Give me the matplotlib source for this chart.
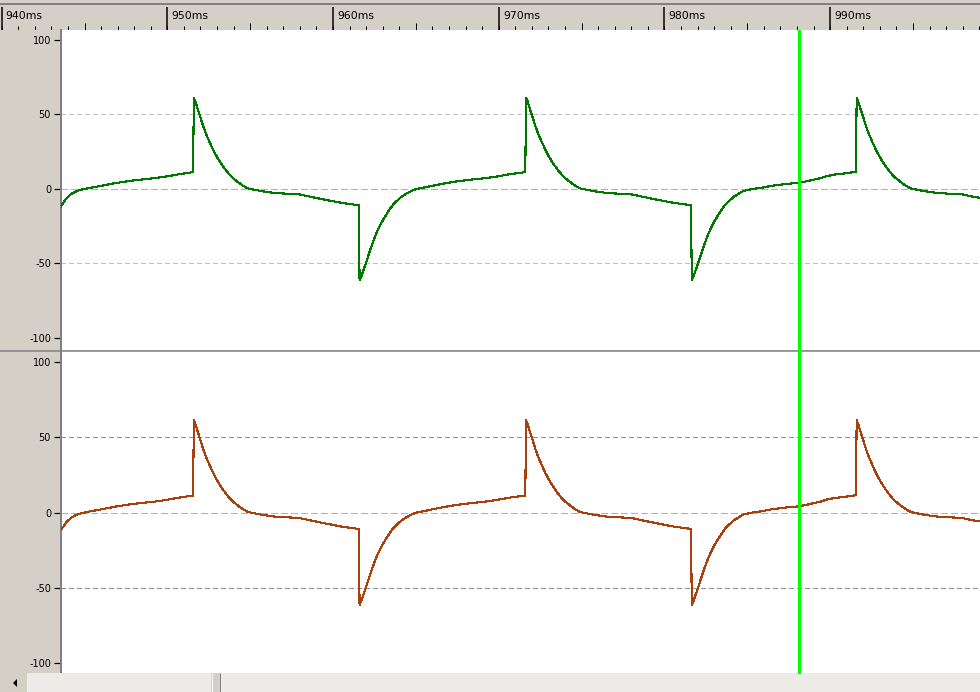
import numpy as np
import matplotlib
matplotlib.use('Agg')
import matplotlib.pyplot as plt
from matplotlib.patches import Rectangle, Polygon
from matplotlib.transforms import blended_transform_factory

# Tamaño de la ventana en píxeles (dpi=100)
W, H = 980, 692
PX_POR_MS = 16.57
T_ORIGEN = 939.9  # ms en el borde izquierdo de la regla

GRIS = '#d4d0c8'
GRIS_OSCURO = '#808080'

# Señal registrada (ms, mV)
tiempo_ms = [
    943.55, 943.9, 944.2, 944.5, 944.8, 945.3, 946.1, 946.8, 947.6, 948.4, 949.2, 949.9, 950.7, 951.55,
    951.6, 951.7, 951.85, 952.0, 952.15, 952.35, 952.55, 952.75, 952.95, 953.15, 953.35, 953.55,
    953.75, 953.95, 954.25, 954.55, 954.85, 955.15, 955.75, 956.55, 957.95, 958.75, 959.55, 960.55, 961.55,
    961.6, 961.7, 961.85, 962.0, 962.15, 962.35, 962.55, 962.75, 962.95, 963.15, 963.35, 963.6,
    963.85, 964.15, 964.45, 964.75, 965.05, 965.45, 966.05, 966.75, 967.55, 968.35, 969.15, 969.85,
    970.65, 971.6,
    971.65, 971.75, 971.9, 972.05, 972.2, 972.4, 972.6, 972.8, 973.0, 973.2, 973.4, 973.6,
    973.8, 974.0, 974.3, 974.6, 974.9, 975.2, 975.8, 976.6, 978.0, 978.8, 979.6, 980.6, 981.6,
    981.65, 981.75, 981.9, 982.05, 982.2, 982.4, 982.6, 982.8, 983.0, 983.2, 983.4, 983.65,
    983.9, 984.2, 984.75, 985.3, 985.9, 986.5, 987.4, 988.1, 988.6, 989.05, 989.4, 989.8,
    990.3, 991.0, 991.55,
    991.6, 991.7, 991.85, 992.0, 992.15, 992.35, 992.55, 992.75, 992.95, 993.15, 993.35, 993.55,
    993.75, 993.95, 994.25, 994.55, 994.85, 995.15, 995.75, 996.55, 997.95, 998.75, 999.2,
]
senal_mv = [
    -12.0, -6.5, -3.4, -1.6, -0.5, 0.7, 2.3, 3.8, 5.2, 6.3, 7.2, 8.3, 9.9, 11.3,
    61.3, 58.5, 53.0, 48.0, 42.5, 36.5, 31.5, 26.5, 22.3, 18.6, 15.3, 12.3,
    9.6, 7.4, 4.7, 2.3, 0.4, -0.3, -1.6, -2.8, -3.6, -5.5, -7.3, -9.4, -10.9,
    -61.3, -58.8, -54.0, -49.3, -44.0, -37.5, -31.5, -26.3, -22.0, -18.3, -14.8, -10.8,
    -8.0, -5.1, -3.0, -1.2, 0.0, 0.9, 2.3, 3.8, 5.2, 6.3, 7.2, 8.3,
    9.9, 11.3,
    61.3, 58.5, 53.0, 48.0, 42.5, 36.5, 31.5, 26.5, 22.3, 18.6, 15.3, 12.3,
    9.6, 7.4, 4.7, 2.3, 0.4, -0.3, -1.6, -2.8, -3.6, -5.5, -7.3, -9.4, -10.9,
    -61.3, -58.8, -54.0, -49.3, -44.0, -37.5, -31.5, -26.3, -22.0, -18.3, -14.8, -10.8,
    -8.0, -5.1, -1.4, 0.0, 0.9, 2.2, 3.4, 4.1, 5.2, 6.3, 7.2, 8.6,
    9.7, 10.6, 11.5,
    61.3, 58.5, 53.0, 48.0, 42.5, 36.5, 31.5, 26.5, 22.3, 18.6, 15.3, 12.3,
    9.6, 7.4, 4.7, 2.3, 0.4, -0.3, -1.6, -2.8, -3.6, -5.5, -6.1,
]
# Los dos canales muestran la misma señal
canal_superior = senal_mv
canal_inferior = senal_mv

valores_eje_y = [-100, -50, 0, 50, 100]
marcas_regla_ms = [940, 950, 960, 970, 980, 990]
etiquetas_regla = ['940ms', '950ms', '960ms', '970ms', '980ms', '990ms']
cursor_ms = 988.13

plt.rcParams['font.family'] = ['DejaVu Sans']
plt.rcParams['axes.unicode_minus'] = False
plt.rcParams['lines.scale_dashes'] = False

PX = 0.72  # un píxel en puntos


def t_px(x):
    return T_ORIGEN + x / PX_POR_MS


def rect(x0, y0, x1, y1):
    """Rectángulo en píxeles (origen arriba a la izquierda) -> coordenadas de figura."""
    return [x0 / W, 1 - y1 / H, (x1 - x0) / W, (y1 - y0) / H]


def dibujar_regla(ax):
    ax.set_xlim(t_px(0), t_px(W))
    ax.set_ylim(30, 0)
    ax.axis('off')
    ax.axhline(4, color=GRIS_OSCURO, lw=2 * PX)
    menores = np.arange(940, 1000, 1)
    medios = np.arange(945, 1000, 10)
    ax.vlines(menores, 26, 30, color='black', lw=PX)
    ax.vlines(medios, 23, 30, color='black', lw=PX)
    ax.vlines(marcas_regla_ms, 7, 30, color='black', lw=1.5 * PX)
    ax.axhline(29.5, color='black', lw=PX)
    for t, txt in zip(marcas_regla_ms, etiquetas_regla):
        ax.annotate(txt, (t, 16), xytext=(3, 0), textcoords='offset points',
                    va='center', ha='left', fontsize=7.8, color='black')


def preparar_panel(ax, limites, color_rejilla):
    ax.set_facecolor('white')
    ax.set_xlim(t_px(61), t_px(W))
    ax.set_ylim(*limites)
    ax.set_xticks([])
    ax.set_yticks(valores_eje_y)
    ax.tick_params(axis='y', direction='out', length=5.2, width=1.2 * PX,
                   pad=2, labelsize=7, colors='black')
    for lado in ['top', 'right', 'bottom']:
        ax.spines[lado].set_visible(False)
    ax.spines['left'].set_color(GRIS_OSCURO)
    ax.spines['left'].set_linewidth(2 * PX)
    guion = (5 * PX, 4 * PX)
    for v in (50, -50):
        ax.axhline(v, color=color_rejilla, lw=PX, dashes=guion, zorder=1,
                   antialiased=False)
    # línea de cero en azul claro
    ax.axhline(0, color='#88b8ee', lw=1.2 * PX, dashes=(6 * PX, 4 * PX),
               zorder=1.5, antialiased=False)


fig = plt.figure(figsize=(W / 100, H / 100), dpi=100, facecolor=GRIS)

regla = fig.add_axes(rect(0, 0, W, 30))
dibujar_regla(regla)

ax_sup = fig.add_axes(rect(61, 30, W, 350))
preparar_panel(ax_sup, (-108.1, 106.7), '#c0c0c0')
ax_sup.plot(tiempo_ms, canal_superior, color='#007800', lw=1.1 * PX,
            antialiased=False, zorder=3)

ax_inf = fig.add_axes(rect(61, 351, W, 673))
preparar_panel(ax_inf, (-106.6, 107.3), '#8c8c8c')
ax_inf.plot(tiempo_ms, canal_inferior, color='#a8400c', lw=1.1 * PX,
            antialiased=False, zorder=3)

# Capa superior en píxeles: separador, barra de desplazamiento y cursor
capa = fig.add_axes([0, 0, 1, 1])
capa.set_xlim(0, W)
capa.set_ylim(H, 0)
capa.axis('off')

capa.hlines(350.5, 0, W, color=GRIS_OSCURO, lw=1.5 * PX)

capa.add_patch(Rectangle((27, 673), W - 27, 19, fc='#ecebe7', ec='none'))
capa.add_patch(Rectangle((8, 673), 19, 19, fc=GRIS, ec='none'))
capa.add_patch(Polygon([(13, 683), (17, 679), (17, 687)], closed=True, fc='black', ec='none'))
capa.add_patch(Rectangle((211, 673), 9, 19, fc=GRIS, ec='none'))
capa.vlines(211.5, 673, 692, color='white', lw=PX)
capa.vlines(219.5, 673, 692, color=GRIS_OSCURO, lw=PX)

trans_cursor = blended_transform_factory(ax_sup.transData, capa.transData)
capa.plot([cursor_ms, cursor_ms], [30, 673], transform=trans_cursor,
          color='#00ff00', lw=3 * PX, antialiased=False, solid_capstyle='butt')

fig.savefig('out.png', dpi=100, facecolor=GRIS)
